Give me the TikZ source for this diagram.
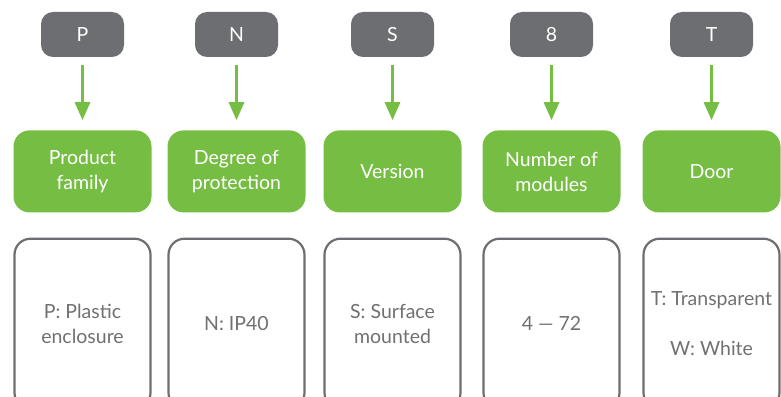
\documentclass[tikz,border=0pt]{standalone}
\usepackage{fontspec}
\setmainfont{Lato}
\usepackage{xcolor}
\usepackage{tikz}
\usetikzlibrary{positioning,arrows.meta}

\definecolor{codegray}{HTML}{6D6E71}
\definecolor{fieldgreen}{HTML}{76BE43}
\definecolor{valuetext}{HTML}{707070}

\tikzset{
	code/.style={fill=codegray, text=white, rounded corners=12pt, minimum width=83pt, minimum height=45pt, font=\fontsize{19.5}{22}\selectfont},
	field/.style={fill=fieldgreen, text=white, rounded corners=16pt, minimum width=138pt, minimum height=82pt, align=center, font=\fontsize{19.5}{25}\selectfont},
	value/.style={draw=codegray, line width=2.2pt, text=valuetext, rounded corners=16pt, minimum width=136pt, minimum height=170pt, align=center, font=\fontsize{19.5}{25}\selectfont},
	pointer/.style={draw=fieldgreen, line width=3pt, -{Triangle[width=15pt,length=18pt]}, shorten <=8pt, shorten >=10pt}
}

\begin{document}
\begin{tikzpicture}[x=1pt,y=-1pt]
	\useasboundingbox (0,0) rectangle (781,396);
	\clip (0,0) rectangle (781,396);

	\node[code] (codep) at (82.5,34.5) {P};
	\node[code] (coden) at (236.5,34.5) {N};
	\node[code] (codes) at (392.5,34.5) {S};
	\node[code] (code8) at (551.5,34.5) {8};
	\node[code] (codet) at (711.5,34.5) {T};

	\node[field, below=73pt of codep] (fieldp) {Product\\family};
	\node[field, below=73pt of coden] (fieldn) {Degree of\\protection};
	\node[field, below=73pt of codes] (fields) {Version};
	\node[field, below=73pt of code8] (field8) {Number of\\modules};
	\node[field, below=73pt of codet] (fieldt) {Door};

	\node[value, below=25pt of fieldp] (valuep) {P: Plastic\\enclosure};
	\node[value, below=25pt of fieldn] (valuen) {N: IP40};
	\node[value, below=25pt of fields] (values) {S: Surface\\mounted};
	\node[value, below=25pt of field8] (value8) {4 --- 72};
	\node[value, below=25pt of fieldt] (valuet) {T: Transparent\\[25pt]W: White};

	\path[pointer] (codep) -- (fieldp);
	\path[pointer] (coden) -- (fieldn);
	\path[pointer] (codes) -- (fields);
	\path[pointer] (code8) -- (field8);
	\path[pointer] (codet) -- (fieldt);
\end{tikzpicture}
\end{document}
